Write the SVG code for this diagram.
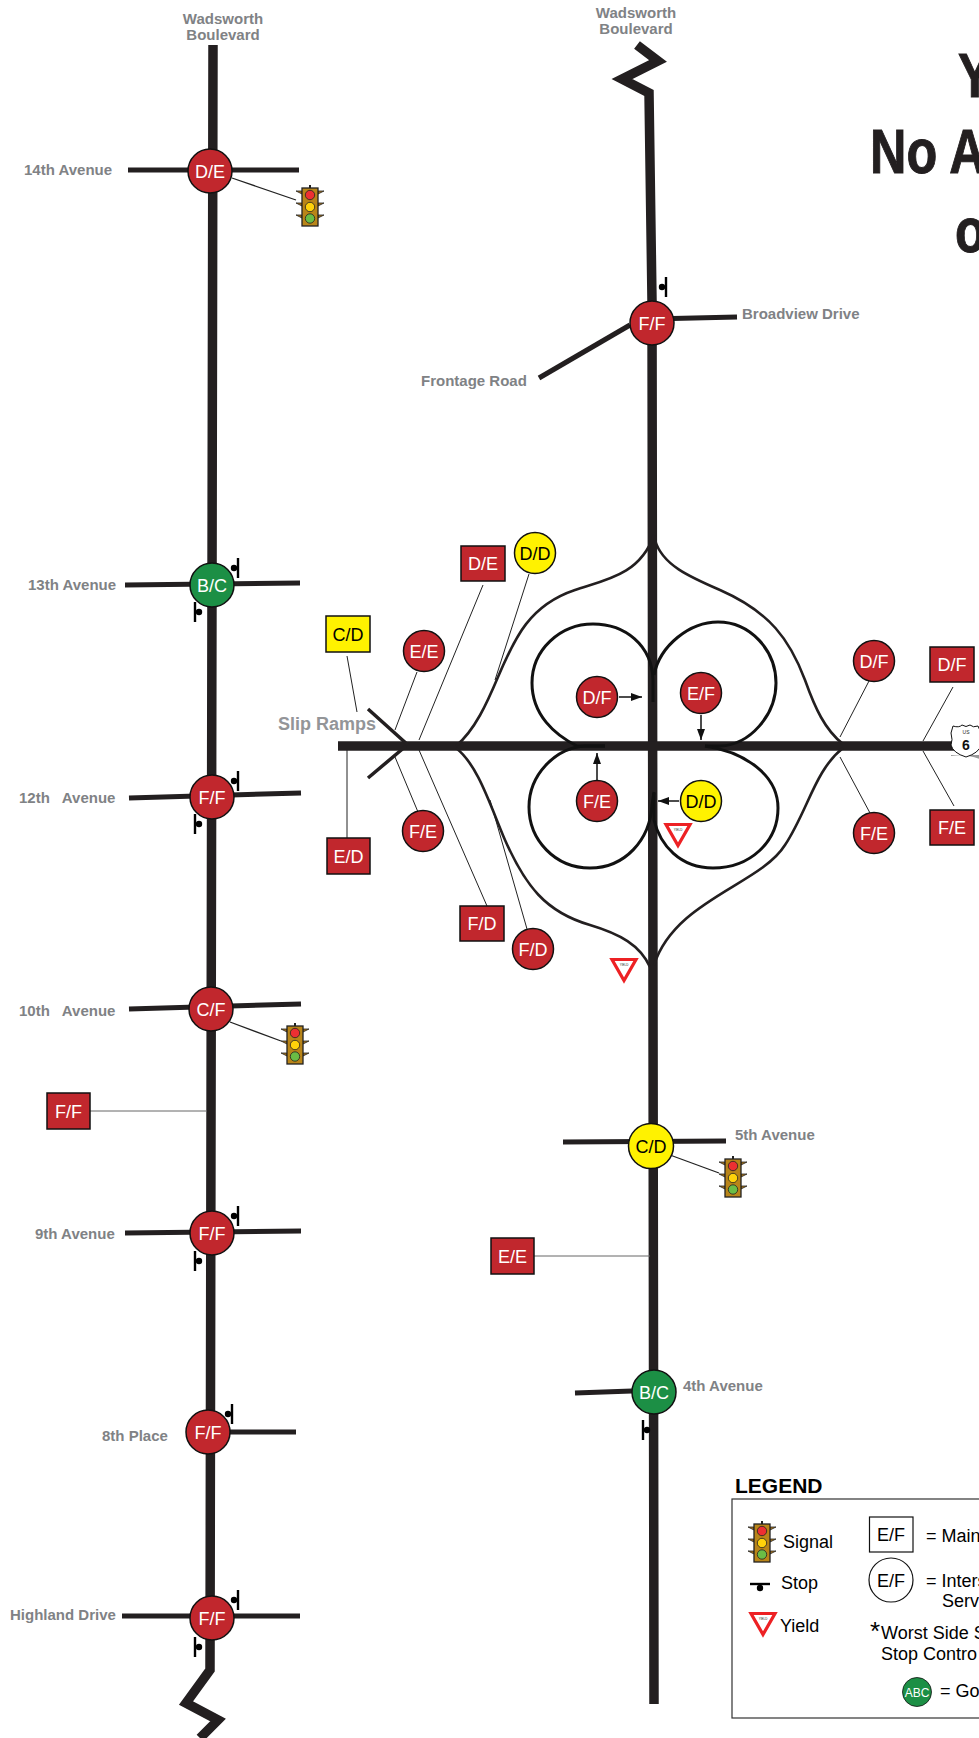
<svg xmlns="http://www.w3.org/2000/svg" width="979" height="1738" viewBox="0 0 979 1738">
<style>
text{font-family:"Liberation Sans",Arial,sans-serif}
.lbl{font-size:15px;font-weight:700;fill:#808285;white-space:pre}
.mid{text-anchor:middle}
.t{font-size:18px;text-anchor:middle;fill:#fff}
.k{fill:#000}
.r{fill:#c1272d;stroke:#111;stroke-width:1.5}
.y{fill:#fff200;stroke:#111;stroke-width:1.5}
.g{fill:#1c8f45;stroke:#111;stroke-width:1.5}
.road{fill:none;stroke:#231f20;stroke-width:9.500}
.cross{fill:none;stroke:#231f20;stroke-width:5}
.ramp{fill:none;stroke:#231f20;stroke-width:2.600}
.loop{fill:none;stroke:#111;stroke-width:3}
.lead{fill:none;stroke:#222;stroke-width:1}
.leg{font-size:18px;fill:#000}
.title{font-size:63px;font-weight:700;fill:#231f20;stroke:#231f20;stroke-width:1}
</style>
<defs>
<marker id="ah" markerWidth="12" markerHeight="8" refX="11" refY="4" orient="auto" markerUnits="userSpaceOnUse"><path d="M0,0L11,4L0,8Z" fill="#111"/></marker>
<g id="signal">
<path d="M-8,-13l-6,-3h6zM8,-13l6,-3h-6zM-8,-1l-6,-3h6zM8,-1l6,-3h-6zM-8,11l-6,-3h6zM8,11l6,-3h-6z" fill="#a8761c" stroke="#222" stroke-width=".8"/>
<rect x="-8" y="-19" width="16" height="38" fill="#b98518" stroke="#222" stroke-width="1.300"/>
<circle cy="-12" r="4.700" fill="#ed2f32" stroke="#222" stroke-width=".8"/>
<circle cy="0" r="4.700" fill="#ffd20a" stroke="#222" stroke-width=".8"/>
<circle cy="11.500" r="4.700" fill="#6abd45" stroke="#222" stroke-width=".8"/>
<path d="M0,-19v-3" stroke="#222" stroke-width="2"/>
</g>
<g id="stopR"><path d="M4,-10V10" stroke="#000" stroke-width="2.400"/><circle cx="0" r="3.200" fill="#000"/></g>
<g id="stopL"><path d="M-4,-10V10" stroke="#000" stroke-width="2.400"/><circle cx="0" r="3.200" fill="#000"/></g>
<g id="yield">
<path d="M-12,-10.500H12L0,10.500Z" fill="#fff" stroke="#ed2124" stroke-width="3.200" stroke-linejoin="miter"/>
<text y="-4.500" text-anchor="middle" style="font-size:3px;fill:#222">YIELD</text>
</g>
</defs>

<g id="title">
<text class="title" transform="translate(958,97) scale(.8,1)">Y</text>
<text class="title" transform="translate(870,173) scale(.8,1)">No A</text>
<text class="title" transform="translate(955,252) scale(.8,1)">o</text>
</g>

<g id="connectors">
<path class="road" d="M213,45L210,1670L186,1703L218,1720L200,1738"/>
<path class="road" d="M637,45L658,61L622,79L649,93L652,300L654,1704"/>
<path class="road" d="M338,746H955"/>
<g class="cross">
<path d="M128,170H299"/><path d="M125,585L300,583"/><path d="M129,798L301,793"/><path d="M129,1009L301,1004"/><path d="M125,1233L301,1231"/><path d="M208,1432H296"/><path d="M122,1616H300"/><path d="M563,1142L726,1141"/><path d="M575,1393L632,1391"/><path d="M651,319L737,317"/><path d="M539,378L630,325"/>
</g>
<path d="M368,709L408,745M368,778L406,746" fill="none" stroke="#231f20" stroke-width="3.500"/>
<g class="ramp">
<path d="M456,746C475,730 487,703 498,677C515,637 530,605 575,590C605,580 640,575 654,535"/>
<path d="M655,540C662,565 690,577 720,590C770,612 790,640 805,680C815,708 825,730 843,744"/>
<path d="M843,748C815,770 808,810 785,845C760,885 675,900 654,965"/>
<path d="M456,748C478,765 490,805 505,840C525,885 545,912 590,925C620,934 640,945 650,967"/>
</g>
<g class="loop">
<path d="M605,746H577C555,735 532,715 532,683C532,650 560,624 593,624C625,624 652,645 653,680L653,702"/>
<path d="M654,675C660,645 690,622 718,622C750,622 776,650 776,683C776,715 750,745 720,746H705"/>
<path d="M705,746C745,752 778,775 778,808C778,842 750,868 713,868C680,868 660,845 654,820L654,793"/>
<path d="M605,746H585C555,748 529,775 529,807C529,840 555,868 590,868C625,868 650,840 652,805L654,792"/>
</g>
<g class="lead">
<path d="M232,178L296,200" stroke-width="1.300"/><path d="M230,1022L281,1041" stroke-width="1.300"/><path d="M670,1155L719,1173" stroke-width="1.300"/>
<path d="M347,656L357,712"/><path d="M417,672L395,730"/><path d="M395,757L418,812"/>
<path d="M483,585L419,740"/><path d="M419,750L487,906"/><path d="M529,574L495,680"/><path d="M490,800L527,929"/>
<path d="M347,750V838"/><path d="M869,681L840,737"/><path d="M840,757L870,813"/>
<path d="M953,687L923,741"/><path d="M923,751L954,806"/>
<path d="M90,1111H207" stroke="#666"/><path d="M534,1256H650" stroke="#666"/>
</g>
<g fill="none" stroke="#111" stroke-width="1.500">
<path d="M619,697H642" marker-end="url(#ah)"/><path d="M597,780V753" marker-end="url(#ah)"/><path d="M701,715V740" marker-end="url(#ah)"/><path d="M679,801H658" marker-end="url(#ah)"/>
</g>
</g>

<g id="controls">
<use href="#signal" x="310" y="207"/><use href="#signal" x="295" y="1045"/><use href="#signal" x="733" y="1178"/>
<use href="#stopR" x="662" y="287"/><use href="#stopR" x="234" y="568"/><use href="#stopL" x="199" y="612"/>
<use href="#stopR" x="234" y="781"/><use href="#stopL" x="199" y="824"/><use href="#stopR" x="234" y="1216"/><use href="#stopL" x="199" y="1261"/>
<use href="#stopR" x="228" y="1414"/><use href="#stopR" x="234" y="1600"/><use href="#stopL" x="199" y="1647"/><use href="#stopL" x="647" y="1430"/>
<use href="#yield" x="678" y="835"/><use href="#yield" x="624" y="970"/>
</g>

<g id="n-14th"><circle class="r" cx="210" cy="171" r="22"/><text class="t" x="210" y="177.500">D/E</text></g>
<g id="n-13th"><circle class="g" cx="212" cy="585" r="22"/><text class="t" x="212" y="591.500">B/C</text></g>
<g id="n-12th"><circle class="r" cx="212" cy="797" r="22"/><text class="t" x="212" y="803.500">F/F</text></g>
<g id="n-10th"><circle class="r" cx="211" cy="1009" r="22"/><text class="t" x="211" y="1015.500">C/F</text></g>
<g id="n-9th"><circle class="r" cx="212" cy="1233" r="22"/><text class="t" x="212" y="1239.500">F/F</text></g>
<g id="n-8th"><circle class="r" cx="208" cy="1432" r="22"/><text class="t" x="208" y="1438.500">F/F</text></g>
<g id="n-highland"><circle class="r" cx="212" cy="1618" r="22"/><text class="t" x="212" y="1624.500">F/F</text></g>
<g id="n-broadview"><circle class="r" cx="652" cy="323" r="22"/><text class="t" x="652" y="329.500">F/F</text></g>
<g id="n-5th"><circle class="y" cx="651" cy="1146" r="22.500"/><text class="t k" x="651" y="1152.500">C/D</text></g>
<g id="n-4th"><circle class="g" cx="654" cy="1392" r="22"/><text class="t" x="654" y="1398.500">B/C</text></g>

<g id="c-dd1"><circle class="y" cx="535" cy="553" r="20.500"/><text class="t k" x="535" y="559.500">D/D</text></g>
<g id="c-ee"><circle class="r" cx="424" cy="651" r="20.500"/><text class="t" x="424" y="657.500">E/E</text></g>
<g id="c-df"><circle class="r" cx="597" cy="697" r="20.500"/><text class="t" x="597" y="703.500">D/F</text></g>
<g id="c-fe"><circle class="r" cx="597" cy="801" r="20.500"/><text class="t" x="597" y="807.500">F/E</text></g>
<g id="c-ef"><circle class="r" cx="701" cy="693" r="20.500"/><text class="t" x="701" y="699.500">E/F</text></g>
<g id="c-dd2"><circle class="y" cx="701" cy="801" r="20.500"/><text class="t k" x="701" y="807.500">D/D</text></g>
<g id="c-df2"><circle class="r" cx="874" cy="661" r="20.500"/><text class="t" x="874" y="667.500">D/F</text></g>
<g id="c-fe2"><circle class="r" cx="874" cy="833" r="20.500"/><text class="t" x="874" y="839.500">F/E</text></g>
<g id="c-fe3"><circle class="r" cx="423" cy="831" r="20.500"/><text class="t" x="423" y="837.500">F/E</text></g>
<g id="c-fd"><circle class="r" cx="533" cy="949" r="20.500"/><text class="t" x="533" y="955.500">F/D</text></g>

<g id="s-cd"><rect class="y" x="326" y="616" width="44" height="36"/><text class="t k" x="348" y="640.500">C/D</text></g>
<g id="s-de"><rect class="r" x="461" y="546" width="44" height="35"/><text class="t" x="483" y="570">D/E</text></g>
<g id="s-ed"><rect class="r" x="327" y="838" width="43" height="36"/><text class="t" x="348.500" y="862.500">E/D</text></g>
<g id="s-fd"><rect class="r" x="460" y="906" width="44" height="35"/><text class="t" x="482" y="930">F/D</text></g>
<g id="s-df"><rect class="r" x="930" y="647" width="44" height="35"/><text class="t" x="952" y="671">D/F</text></g>
<g id="s-fe"><rect class="r" x="930" y="810" width="44" height="35"/><text class="t" x="952" y="834">F/E</text></g>
<g id="s-ff"><rect class="r" x="47" y="1093" width="43" height="36"/><text class="t" x="68.500" y="1117.500">F/F</text></g>
<g id="s-ee"><rect class="r" x="491" y="1238" width="43" height="36"/><text class="t" x="512.500" y="1262.500">E/E</text></g>

<g id="us6">
<path d="M951,756Q968,753 984,761L984,755H951Z" fill="#999"/>
<path d="M953,726q6,2 9,-1q4,3 8,0q3,3 8,1l3,7q-3,8 0,12q-2,8 -15,12q-13,-4 -15,-12q2,-5 0,-12z" fill="#fff" stroke="#111" stroke-width="1"/>
<text x="966" y="734" text-anchor="middle" style="font-size:5px;fill:#222">US</text>
<text x="966" y="750" text-anchor="middle" style="font-size:14px;font-weight:700;fill:#111">6</text>
</g>

<g id="labels">
<text class="lbl mid" x="223" y="24">Wadsworth</text><text class="lbl mid" x="223" y="40">Boulevard</text>
<text class="lbl mid" x="636" y="18">Wadsworth</text><text class="lbl mid" x="636" y="34">Boulevard</text>
<text class="lbl" x="24" y="175">14th Avenue</text>
<text class="lbl" x="28" y="590">13th Avenue</text>
<text class="lbl" x="19" y="803">12th   Avenue</text>
<text class="lbl" x="19" y="1016">10th   Avenue</text>
<text class="lbl" x="35" y="1239">9th Avenue</text>
<text class="lbl" x="102" y="1441">8th Place</text>
<text class="lbl" x="10" y="1620">Highland Drive</text>
<text class="lbl" x="742" y="319">Broadview Drive</text>
<text class="lbl" x="421" y="386">Frontage Road</text>
<text class="lbl" x="735" y="1140">5th Avenue</text>
<text class="lbl" x="683" y="1391">4th Avenue</text>
<text x="278" y="730" style="font-size:18px;font-weight:700;fill:#939598">Slip Ramps</text>
</g>

<g id="legend">
<text x="735" y="1493" style="font-size:21px;font-weight:700;fill:#000">LEGEND</text>
<rect x="732" y="1499" width="260" height="219" fill="none" stroke="#333" stroke-width="1.200"/>
<use href="#signal" x="762" y="1543"/>
<text class="leg" x="783" y="1548">Signal</text>
<path d="M750,1584H770" stroke="#000" stroke-width="2.400"/><circle cx="760" cy="1588" r="3.200" fill="#000"/>
<text class="leg" x="781" y="1589">Stop</text>
<use href="#yield" x="763" y="1624"/>
<text class="leg" x="780" y="1632">Yield</text>
<rect x="869.500" y="1517" width="43.500" height="35" fill="#fff" stroke="#111" stroke-width="1.200"/>
<text class="t k" x="891" y="1541">E/F</text>
<text class="leg" x="926" y="1542">= Main</text>
<circle cx="891" cy="1580" r="22" fill="#fff" stroke="#111" stroke-width="1.200"/>
<text class="t k" x="891" y="1586.500">E/F</text>
<text class="leg" x="926" y="1587">= Inters</text>
<text class="leg" x="942" y="1607">Serv</text>
<text x="870" y="1640" style="font-size:26px;fill:#000">*</text>
<text class="leg" x="881" y="1639">Worst Side S</text>
<text class="leg" x="881" y="1660">Stop Contro</text>
<circle class="g" cx="917" cy="1692" r="14.500" style="stroke-width:.8"/>
<text x="917" y="1696.500" text-anchor="middle" style="font-size:12px;fill:#fff">ABC</text>
<text class="leg" x="940" y="1697">= Go</text>
</g>
</svg>
